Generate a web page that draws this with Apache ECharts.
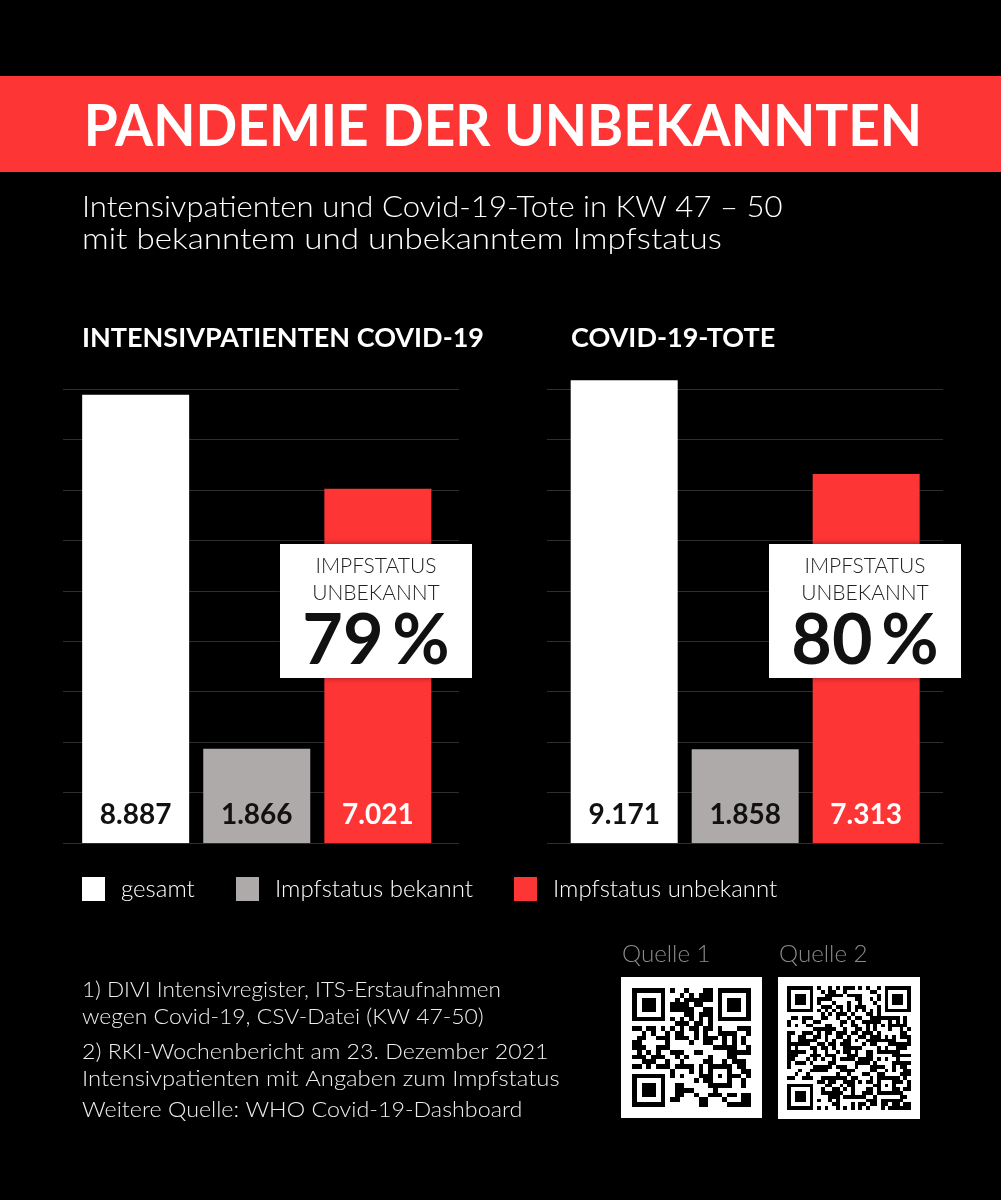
<!DOCTYPE html>
<html><head><meta charset="utf-8">
<script src="https://cdn.jsdelivr.net/npm/echarts@6/dist/echarts.min.js"></script>
<style>html,body{margin:0;padding:0;background:#000;} #c{width:1001px;height:1200px;}</style>
</head><body><div id="c"></div>
<script>
// ---- data ----
const categories = ['gesamt', 'Impfstatus bekannt', 'Impfstatus unbekannt'];
const panels = ['INTENSIVPATIENTEN COVID-19', 'COVID-19-TOTE'];
const gesamt = [8887, 9171];
const bekannt = [1866, 1858];
const unbekannt = [7021, 7313];
const yMax = 9000, yStep = 1000;
const mainTitle = 'PANDEMIE DER UNBEKANNTEN';
const subtitle = ['Intensivpatienten und Covid-19-Tote in KW 47 – 50', 'mit bekanntem und unbekanntem Impfstatus'];
const boxLines = ['IMPFSTATUS', 'UNBEKANNT'];
const notes = ['1) DIVI Intensivregister, ITS-Erstaufnahmen', 'wegen Covid-19, CSV-Datei (KW 47-50)', '2) RKI-Wochenbericht am 23. Dezember 2021', 'Intensivpatienten mit Angaben zum Impfstatus', 'Weitere Quelle: WHO Covid-19-Dashboard'];
const sources = ['Quelle 1', 'Quelle 2'];

// ---- style ----
const RED = '#fe3535', GRAY = '#aeaaa9', WHITE = '#ffffff';
const colors = [WHITE, GRAY, RED];
const labelColors = ['#111', '#111', '#fff'];
const FONT = 'Lato, "Open Sans", sans-serif';
const fmt = v => String(v).replace(/\B(?=(\d{3})+(?!\d))/g, '.');

const grids = [
  {left: 63, top: 389, width: 396, height: 454},
  {left: 547, top: 389, width: 396, height: 454}
];
const xRanges = [[-0.6, 2.67], [-0.638, 2.635]];

const series = [];
const seriesData = [gesamt, bekannt, unbekannt];
panels.forEach((p, pi) => {
  categories.forEach((cat, ci) => {
    series.push({
      type: 'bar', name: cat, xAxisIndex: pi, yAxisIndex: pi,
      barWidth: 107, barGap: '-100%', clip: false,
      itemStyle: {color: colors[ci]},
      label: {show: true, position: 'insideBottom', distance: 14,
        formatter: d => fmt(d.value[1]),
        color: labelColors[ci], fontSize: 28, fontWeight: 'bold', fontFamily: FONT},
      emphasis: {disabled: true},
      data: [[ci, seriesData[ci][pi]]]
    });
  });
});

function txt(t, x, y, font, fill, align, sx, z) {
  return {type: 'text', x: x, y: y, scaleX: sx || 1, z: z || 10,
    style: {text: t, x: 0, y: 0, align: align || 'left', verticalAlign: 'middle', fill: fill, font: font}};
}

const graphic = [];
// banner
graphic.push({type: 'rect', shape: {x: 0, y: 76, width: 1001, height: 96}, style: {fill: RED}, z: 0});
graphic.push(txt(mainTitle, 503, 127, 'bold 58px ' + FONT, '#fff', 'center', 0.947));
const subScale = [1.037, 1.105];
subtitle.forEach((t, i) => graphic.push(txt(t, 82, 207 + i * 32, '300 30px ' + FONT, '#fff', 'left', subScale[i])));
panels.forEach((t, i) => graphic.push(txt(t, [82, 571][i], 338, 'bold 27px ' + FONT, '#fff', 'left', 1.0)));

// annotation boxes
const boxX = [280, 769];
panels.forEach((p, pi) => {
  const pct = Math.round(unbekannt[pi] / gesamt[pi] * 100);
  const cx = boxX[pi] + 96;
  graphic.push({type: 'rect', shape: {x: boxX[pi], y: 544, width: 192, height: 134},
    style: {fill: '#fff', shadowBlur: 6, shadowColor: 'rgba(0,0,0,0.4)'}, z: 50});
  boxLines.forEach((t, i) => graphic.push(txt(t, cx, 566 + i * 27, '300 21px ' + FONT, '#222', 'center', 1, 51)));
  graphic.push(txt(pct + '\u2009%', cx, 641, 'bold 70px ' + FONT, '#111', 'center', 1, 51));
});

// footnotes
const noteY = [990, 1017, 1052, 1079, 1110];
const noteScale = [1.024, 1.041, 1.053, 1.084, 1.058];
notes.forEach((t, i) => graphic.push(txt(t, 82, noteY[i], '300 22px ' + FONT, '#eee', 'left', noteScale[i])));

// sources + QR-like decoration
const qrBoxes = [{x: 621, y: 977, w: 141, n: 25, m: 11, seed: 3}, {x: 778, y: 977, w: 142, n: 33, m: 9, seed: 7}];
sources.forEach((t, i) => graphic.push(txt(t, qrBoxes[i].x + 1, 955, '300 23px ' + FONT, '#8a8a8a', 'left', 1.05)));

function qrModules(b) {
  const els = [{type: 'rect', shape: {x: b.x, y: b.y, width: b.w, height: b.w}, style: {fill: '#fff'}}];
  const n = b.n, ms = (b.w - 2 * b.m) / n;
  const inFinder = (r, c) => {
    const fs = [[0, 0], [0, n - 7], [n - 7, 0]];
    for (const [fr, fc] of fs) {
      if (r >= fr - 1 && r <= fr + 7 && c >= fc - 1 && c <= fc + 7) {
        const rr = r - fr, cc = c - fc;
        if (rr < 0 || rr > 6 || cc < 0 || cc > 6) return 0;
        if (rr === 0 || rr === 6 || cc === 0 || cc === 6) return 1;
        if (rr >= 2 && rr <= 4 && cc >= 2 && cc <= 4) return 1;
        return 0;
      }
    }
    return -1;
  };
  const al = n - 7;
  const dark = (r, c) => {
    const f = inFinder(r, c);
    if (f !== -1) return f === 1;
    if (Math.abs(r - al) <= 2 && Math.abs(c - al) <= 2) {
      const d = Math.max(Math.abs(r - al), Math.abs(c - al));
      return d !== 1;
    }
    if (r === 6) return c % 2 === 0;
    if (c === 6) return r % 2 === 0;
    const h = Math.sin(r * 12.9898 + c * 78.233 + b.seed * 3.1) * 43758.5453;
    return (h - Math.floor(h)) > 0.5;
  };
  for (let r = 0; r < n; r++) {
    let c = 0;
    while (c < n) {
      if (dark(r, c)) {
        let e = c; while (e + 1 < n && dark(r, e + 1)) e++;
        const x0 = Math.round(b.x + b.m + c * ms), x1 = Math.round(b.x + b.m + (e + 1) * ms);
        const y0 = Math.round(b.y + b.m + r * ms), y1 = Math.round(b.y + b.m + (r + 1) * ms);
        els.push({type: 'rect', shape: {x: x0, y: y0, width: x1 - x0, height: y1 - y0}, style: {fill: '#000'}});
        c = e + 1;
      } else c++;
    }
  }
  return els;
}
qrBoxes.forEach(b => graphic.push(...qrModules(b)));

const legendX = [82, 236, 514];
const legend = categories.map((cat, i) => ({
  data: [cat], left: legendX[i], top: 877, padding: 0, itemWidth: 23, itemHeight: 24, icon: 'rect',
  selectedMode: false,
  textStyle: {color: '#fff', fontSize: 24, fontWeight: 300, fontFamily: FONT, padding: [0, 0, 0, 11]}
}));

const chart = echarts.init(document.getElementById('c'), null, {renderer: 'canvas'});
chart.setOption({
  backgroundColor: '#000',
  animation: false,
  grid: grids,
  xAxis: xRanges.map((r, i) => ({type: 'value', gridIndex: i, min: r[0], max: r[1], show: false})),
  yAxis: grids.map((g, i) => ({type: 'value', gridIndex: i, min: 0, max: yMax, interval: yStep,
    axisLabel: {show: false}, axisLine: {show: false}, axisTick: {show: false},
    splitLine: {show: true, lineStyle: {color: '#2e2e2e', width: 1}}})),
  legend: legend,
  series: series,
  graphic: graphic
});
</script></body></html>
